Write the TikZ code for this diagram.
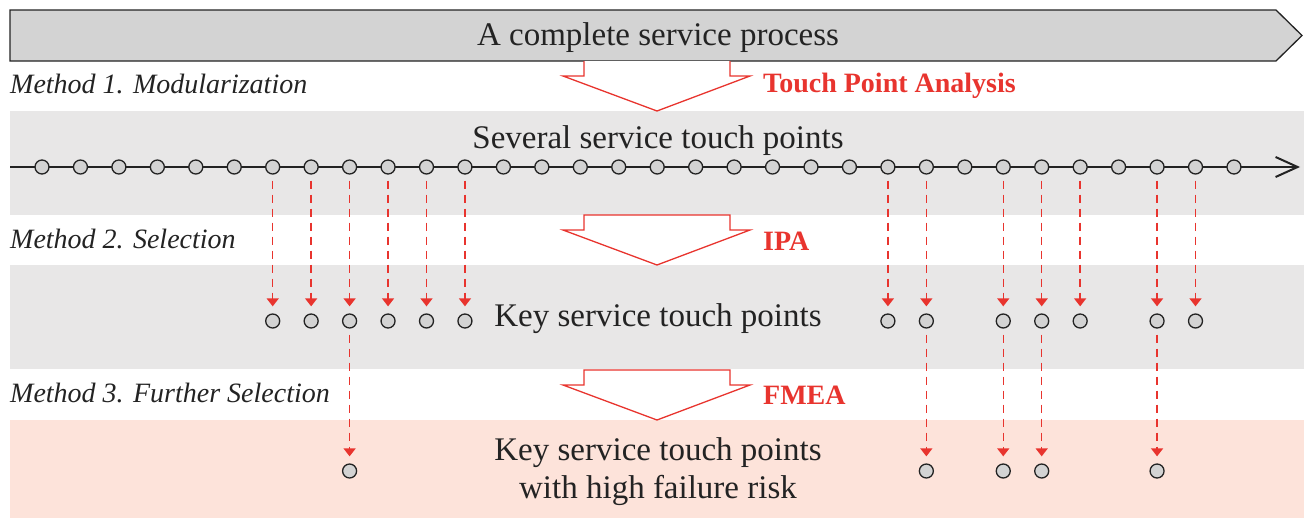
\documentclass[tikz,border=0pt]{standalone}
\usepackage{fontspec}
\setmainfont{Liberation Serif}
\usetikzlibrary{arrows.meta}
\definecolor{bandgray}{RGB}{232,231,231}
\definecolor{bandpink}{RGB}{253,227,218}
\definecolor{procgray}{RGB}{211,211,211}
\definecolor{redc}{RGB}{232,52,46}
\definecolor{darkc}{RGB}{35,35,35}
\tikzset{
  pt/.style={circle,draw=darkc,fill=procgray,line width=1.3pt,minimum size=14pt,inner sep=0pt},
  sel/.style={draw=redc,line width=1.5pt,dash pattern=on 8pt off 6pt,-{Triangle[length=8pt,width=12pt]},shorten <=6pt,shorten >=7pt},
  hollow/.style={draw=redc,fill=white,line width=1.3pt},
  method/.style={anchor=west,font=\fontsize{28}{32}\selectfont\itshape,text=darkc,inner sep=0pt},
  redlab/.style={anchor=west,font=\fontsize{28}{32}\selectfont\bfseries,text=redc,inner sep=0pt},
  bigtext/.style={font=\fontsize{33}{38}\selectfont,text=darkc,align=center,inner sep=0pt}
}
\begin{document}
\begin{tikzpicture}[x=1pt,y=-1pt]
\useasboundingbox (0,0) rectangle (1304,520);
% bands
\fill[bandgray] (10,111) rectangle (1304,215);
\fill[bandgray] (10,265) rectangle (1304,369);
\fill[bandpink] (10,420) rectangle (1304,518);
% top process arrow
\draw[draw=darkc,fill=procgray,line width=1.3pt] (10,10) -- (1276,10) -- (1302,35.5) -- (1276,61) -- (10,61) -- cycle;
\node[bigtext] (proc) at (658,38) {A complete service process};
% method labels
\node[method] (m1) at (10,84) {Method 1. Modularization};
\node[method] (m2) at (10,239) {Method 2. Selection};
\node[method] (m3) at (10,393) {Method 3. Further Selection};
% hollow arrows
\draw[hollow] (584,61) -- (584,76) -- (563,76) -- (657,111) -- (750,76) -- (730,76) -- (730,61);
\draw[hollow] (584,215) -- (584,230) -- (563,230) -- (657,265) -- (750,230) -- (730,230) -- (730,215) -- cycle;
\draw[hollow] (584,370) -- (584,385) -- (563,385) -- (657,420) -- (750,385) -- (730,385) -- (730,370) -- cycle;
\node[redlab] (l1) at (763,86) {Touch Point Analysis};
\node[redlab] (l2) at (763,241) {IPA};
\node[redlab] (l3) at (763,395) {FMEA};
% texts
\node[bigtext] (t1) at (658,141) {Several service touch points};
\node[bigtext] (t2) at (658,319) {Key service touch points};
\node[bigtext] (t3) at (658,472) {Key service touch points\\with high failure risk};
% timeline
\coordinate (lstart) at (10,167);
\coordinate (lend) at (1300,167);
\draw[darkc,line width=1.3pt,-{Straight Barb[length=22pt,width=20pt,line width=2pt]}] (lstart) -- (lend);
\foreach \i in {1,...,32} {
  \node[pt] (p\i) at ({42+(\i-1)*38.45},167) {};
}
% key points and selection arrows
\foreach \i in {7,8,9,10,11,12,23,24,26,27,28,30,31} {
  \node[pt] (k\i) at ({42+(\i-1)*38.45},321) {};
  \draw[sel] (p\i) -- (k\i);
}
\foreach \i in {9,24,26,27,30} {
  \node[pt] (f\i) at ({42+(\i-1)*38.45},471) {};
  \draw[sel] (k\i) -- (f\i);
}
\end{tikzpicture}
\end{document}
